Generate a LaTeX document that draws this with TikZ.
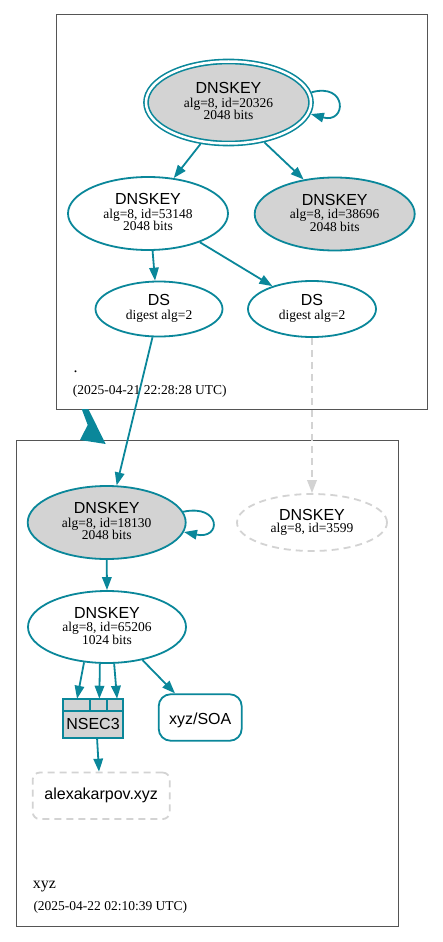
\documentclass[tikz,border=0pt]{standalone}
\usepackage{fontspec}
\setmainfont{Liberation Serif}
\setsansfont{Liberation Sans}
\usetikzlibrary{arrows.meta,shapes.geometric}
\definecolor{sec}{HTML}{0A879A}
\definecolor{lg}{HTML}{D3D3D3}
\definecolor{clus}{HTML}{555555}
\newcommand\threelines[3]{%
  \node[big,anchor=base] (#1-a) at ([yshift=9pt]#1.center) {DNSKEY};
  \node[sm,anchor=base] (#1-b) at ([yshift=-4.5pt]#1.center) {#2};
  \node[sm,anchor=base] (#1-c) at ([yshift=-17pt]#1.center) {#3};}
\begin{document}
\begin{tikzpicture}[x=1pt,y=-1pt,
  every node/.style={inner sep=0pt},
  cl/.style={draw=clus, line width=1pt, rectangle, anchor=north west, outer sep=0pt},
  key/.style={ellipse, draw=sec, line width=1.8pt},
  ghost/.style={ellipse, draw=lg, line width=1.8pt, dash pattern=on 7pt off 5pt},
  big/.style={font=\fontsize{16}{18}\selectfont\sffamily},
  sm/.style={font=\fontsize{13.5}{15}\selectfont},
  ttl/.style={font=\fontsize{16}{18}\selectfont},
  arr/.style={draw=sec, line width=1.8pt, -{Triangle[length=13pt,width=9.5pt]}},
  garr/.style={draw=lg, line width=1.8pt, dash pattern=on 7pt off 5pt, -{Triangle[length=13pt,width=9.5pt]}},
]
\useasboundingbox (0,0) rectangle (443,942);

% clusters
\node[cl, minimum width=371pt, minimum height=394pt] (zroot) at (56,15) {};
\node[cl, minimum width=382.5pt, minimum height=486pt] (zxyz) at (16,440) {};
\node[ttl, anchor=base west] (lroot) at (73.5,372) {.};
\node[sm, anchor=base west] (troot) at (72.7,394.5) {(2025-04-21 22:28:28 UTC)};
\node[ttl, anchor=base west] (lxyz) at (32.7,888.3) {xyz};
\node[sm, anchor=base west] (txyz) at (33.3,910) {(2025-04-22 02:10:39 UTC)};

% delegation arrow
\coordinate (d1) at (81.7,409);
\coordinate (d2) at (88.3,409);
\coordinate (d3) at (105.7,444);
\coordinate (d4) at (80,440);
\coordinate (d5) at (87.7,425);
\fill[sec] (d1) -- (d2) -- (d3) -- (d4) -- (d5) -- cycle;

% nodes
\node[key, fill=lg, double=white, double distance=2.5pt, line width=1.6pt, outer sep=2.9pt,
      minimum width=165pt, minimum height=82pt] (k1) at (228.5,102.5) {};
\threelines{k1}{alg=8, id=20326}{2048 bits}
\node[key, fill=white, minimum width=160pt, minimum height=73pt] (k2) at (148,213.5) {};
\threelines{k2}{alg=8, id=53148}{2048 bits}
\node[key, fill=lg, minimum width=160pt, minimum height=73pt] (k3) at (334.7,214) {};
\threelines{k3}{alg=8, id=38696}{2048 bits}
\node[key, fill=white, minimum width=127pt, minimum height=55pt] (ds1) at (159,309) {};
\node[big,anchor=base] (ds1-a) at ([yshift=3.3pt]ds1.center) {DS};
\node[sm,anchor=base] (ds1-b) at ([yshift=-10.3pt]ds1.center) {digest alg=2};
\node[key, fill=white, minimum width=128pt, minimum height=56pt] (ds2) at (312,309) {};
\node[big,anchor=base] (ds2-a) at ([yshift=3.3pt]ds2.center) {DS};
\node[sm,anchor=base] (ds2-b) at ([yshift=-10.3pt]ds2.center) {digest alg=2};

\node[key, fill=lg, minimum width=158pt, minimum height=73pt] (k4) at (106.7,522.5) {};
\threelines{k4}{alg=8, id=18130}{2048 bits}
\node[ghost, fill=white, minimum width=150pt, minimum height=57pt] (k5) at (312,522.5) {};
\node[big,anchor=base,text=black] (k5-a) at ([yshift=2.5pt]k5.center) {DNSKEY};
\node[sm,anchor=base] (k5-b) at ([yshift=-9.8pt]k5.center) {alg=8, id=3599};
\node[key, fill=white, minimum width=158pt, minimum height=72pt] (k6) at (107,627) {};
\threelines{k6}{alg=8, id=65206}{1024 bits}

\node[rectangle, draw=sec, fill=lg, line width=2.4pt, outer sep=0pt,
      minimum width=60.5pt, minimum height=39.5pt] (nsec) at (93,718.5) {};
\draw[sec, line width=2pt] ([yshift=-12.3pt]nsec.north west) -- ([yshift=-12.3pt]nsec.north east);
\draw[sec, line width=2pt] ([xshift=27.3pt]nsec.north west) -- ([xshift=27.3pt,yshift=-12.3pt]nsec.north west);
\draw[sec, line width=2pt] ([xshift=44pt]nsec.north west) -- ([xshift=44pt,yshift=-12.3pt]nsec.north west);
\node[big,anchor=base] (nsec-t) at ([yshift=-10.8pt]nsec.center) {NSEC3};

\node[rectangle, draw=sec, fill=white, line width=1.8pt, rounded corners=12pt,
      minimum width=83pt, minimum height=46.5pt] (soa) at (200.2,717.5) {};
\node[big,anchor=base] (soa-t) at ([yshift=-6.5pt]soa.center) {xyz/SOA};
\node[rectangle, draw=lg, fill=white, line width=1.8pt, rounded corners=7pt,
      dash pattern=on 7pt off 5pt, minimum width=137pt, minimum height=46.5pt] (alex) at (101.2,795.8) {};
\node[big,anchor=base] (alex-t) at ([yshift=-3.5pt]alex.center) {alexakarpov.xyz};

% edges
\draw[arr] (k1.-124.5) -- (k2.54.8);
\draw[arr] (k1.-48) -- (k3.132.7);
\draw[arr] (k1.7) .. controls +(36,-10) and +(36,10) .. (k1.-8.4);
\draw[arr] (k2.-83) -- (ds1.98.3);
\draw[arr] (k2.-29.8) -- (ds2.150);
\draw[arr] (ds1.-103.7) -- (k4.75);
\draw[garr] (ds2.south) -- (k5.north);
\draw[arr] (k4.8) .. controls +(38,-8) and +(38,8) .. (k4.-7.9);
\draw[arr] (k4.south) -- (k6.north);
\draw[arr] (k6.-123.7) -- ([xshift=14.3pt]nsec.north west);
\draw[arr] (k6.-101) -- ([xshift=36.6pt]nsec.north west);
\draw[arr] (k6.-79) -- ([xshift=54.3pt]nsec.north west);
\draw[arr] (k6.-43.7) -- ([xshift=-25.2pt]soa.north);
\draw[arr] ([xshift=34.3pt]nsec.south west) -- ([xshift=-2.2pt]alex.north);
\end{tikzpicture}
\end{document}
